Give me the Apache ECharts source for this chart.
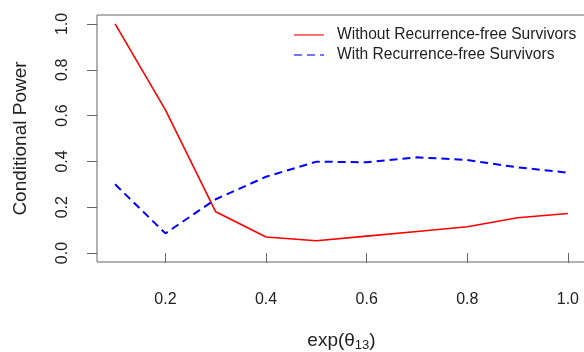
<!DOCTYPE html>
<html>
<head>
<meta charset="utf-8">
<script src="https://cdn.jsdelivr.net/npm/echarts@6/dist/echarts.min.js"></script>
<style>html,body{margin:0;padding:0;background:#fff;}#c{width:584px;height:352px;}</style>
</head>
<body>
<div id="c"></div>
<script>
const xValues = [0.1, 0.2, 0.3, 0.4, 0.5, 0.6, 0.7, 0.8, 0.9, 1.0];
const withoutRFS = [1.0, 0.625, 0.18, 0.07, 0.054, 0.074, 0.094, 0.115, 0.154, 0.173];
const withRFS = [0.30, 0.086, 0.235, 0.333, 0.399, 0.396, 0.418, 0.406, 0.374, 0.351];
const xTicks = [0.2, 0.4, 0.6, 0.8, 1.0];
const yTicks = [0.0, 0.2, 0.4, 0.6, 0.8, 1.0];
const seriesNames = ['Without Recurrence-free Survivors', 'With Recurrence-free Survivors'];

const font = 'Liberation Sans, Arial, Helvetica, sans-serif';
const txt = '#222';
const axc = '#666';
const chart = echarts.init(document.getElementById('c'), null, {renderer: 'canvas'});
chart.setOption({
  animation: false,
  backgroundColor: '#fff',
  grid: {left: 97, top: 15, width: 489, height: 247, show: true, borderColor: axc, borderWidth: 1, backgroundColor: 'transparent', containLabel: false, outerBoundsMode: 'none'},
  legend: {
    orient: 'vertical', left: 288, top: 22, itemWidth: 30, itemHeight: 14, itemGap: 4,
    textStyle: {fontFamily: font, fontSize: 15.6, color: txt, padding: [0, 0, 0, 8]},
    data: seriesNames,
    itemStyle: {opacity: 0},
    lineStyle: {opacity: 0.55}
  },
  xAxis: {
    type: 'value', min: 0.064, max: 1.036,
    name: 'exp(θ{sub|13})', nameLocation: 'middle', nameGap: 68,
    nameTextStyle: {fontFamily: font, fontSize: 19, color: txt, rich: {sub: {fontFamily: font, fontSize: 13, color: txt, verticalAlign: 'bottom', padding: [9, 0, 0, 0]}}},
    axisLine: {show: false},
    axisTick: {show: true, length: 10, lineStyle: {color: axc}, customValues: xTicks},
    axisLabel: {fontFamily: font, fontSize: 16, color: txt, margin: 30, customValues: xTicks, formatter: v => v.toFixed(1)},
    splitLine: {show: false}
  },
  yAxis: {
    type: 'value', min: -0.039, max: 1.039,
    name: 'Conditional Power', nameLocation: 'middle', nameGap: 67, nameRotate: 90,
    nameTextStyle: {fontFamily: font, fontSize: 19, color: txt},
    axisLine: {show: false},
    axisTick: {show: true, length: 10, lineStyle: {color: axc}, customValues: yTicks},
    axisLabel: {fontFamily: font, fontSize: 16, color: txt, margin: 26, rotate: 90, customValues: yTicks, formatter: v => v.toFixed(1)},
    splitLine: {show: false}
  },
  series: [
    {name: seriesNames[0], type: 'line', symbol: 'none', data: xValues.map((x, i) => [x, withoutRFS[i]]),
     lineStyle: {color: '#ff0000', width: 1.6}, itemStyle: {color: '#ff0000'}},
    {name: seriesNames[1], type: 'line', symbol: 'none', data: xValues.map((x, i) => [x, withRFS[i]]),
     lineStyle: {color: '#0000ff', width: 2, type: [8, 5]}, itemStyle: {color: '#0000ff'}}
  ]
});
</script>
</body>
</html>
